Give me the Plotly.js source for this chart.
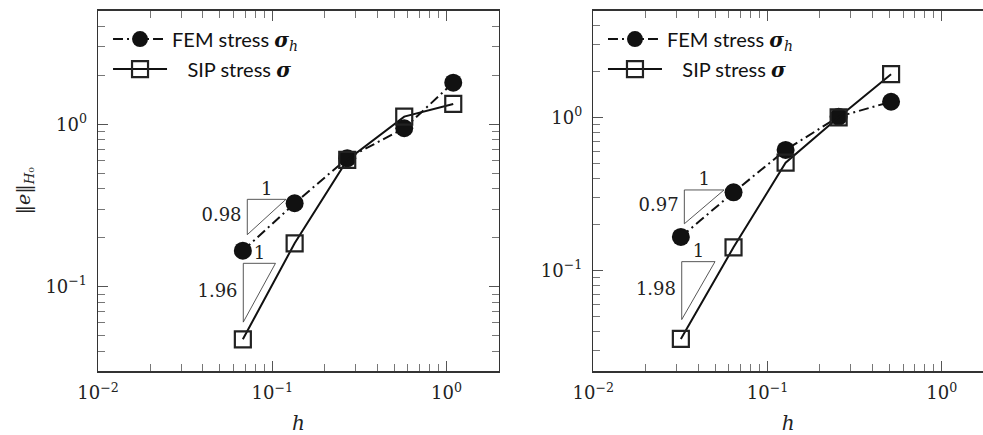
<!DOCTYPE html>
<html>
<head>
<meta charset="utf-8">
<script src="https://cdn.plot.ly/plotly-3.0.1.min.js"></script>
<style>
  html, body { margin: 0; padding: 0; background: #fff; overflow: hidden; }
  #chart { width: 983px; height: 435px; }
</style>
</head>
<body>
<div id="chart"></div>
<script>
// ---- data ----
const hLeft   = [0.0678, 0.1344, 0.2693, 0.572, 1.093];
const femLeft = [0.1666, 0.3263, 0.6174, 0.9449, 1.804];
const sipLeft = [0.04745, 0.1850, 0.6029, 1.114, 1.334];

const hRight   = [0.0318, 0.0638, 0.127, 0.256, 0.512];
const femRight = [0.166, 0.325, 0.615, 1.015, 1.27];
const sipRight = [0.0358, 0.142, 0.508, 1.005, 1.924];

const seriesNames = ['FEM stress <span style="font-family:DejaVu Serif"><b><i>σ</i></b><sub><i>h</i></sub></span>',
                     '\u00a0\u00a0\u00a0SIP stress <span style="font-family:DejaVu Serif"><b><i>σ</i></b></span>'];

const slopeLeft  = [0.98, 1.96];
const slopeRight = [0.97, 1.98];

const xTickVals = [0.01, 0.1, 1];
const xTickText = ['10<sup>−2</sup>', '10<sup>−1</sup>', '10<sup>0</sup>'];
const yTickVals = [0.1, 1];
const yTickText = ['10<sup>−1</sup>', '10<sup>0</sup>'];

// ---- slope-triangle placement (annotation geometry) ----
const triLeft = [
  {x: 0.0719, yTop: 0.345, ratio: 1.667},
  {x: 0.0682, yTop: 0.1393, ratio: 1.53}
];
const triRight = [
  {x: 0.0333, yTop: 0.3368, ratio: 1.69},
  {x: 0.03217, yTop: 0.1145, ratio: 1.553}
];

const serif = 'DejaVu Serif';
const sans = 'Lato';
const ink = '#111';

function seriesTraces(h, fem, sip, xa, ya, legend) {
  return [
    {x: h, y: fem, xaxis: xa, yaxis: ya, type: 'scatter', mode: 'lines+markers',
     name: seriesNames[0], legend: legend, legendgroup: legend + 'a',
     line: {color: ink, width: 2, dash: '10px,4px,2px,4px'},
     marker: {symbol: 'circle', size: 18, color: ink}},
    {x: h, y: sip, xaxis: xa, yaxis: ya, type: 'scatter', mode: 'lines+markers',
     name: seriesNames[1], legend: legend, legendgroup: legend + 'b',
     line: {color: ink, width: 2},
     marker: {symbol: 'square-open', size: 16, color: '#222', line: {width: 2.2, color: '#222'}}}
  ];
}

function triangleTraces(tris, slopes, xa, ya) {
  const out = [];
  tris.forEach((t, i) => {
    const xb = t.x * t.ratio;
    const yBot = t.yTop / Math.pow(t.ratio, slopes[i]);
    out.push({x: [t.x, xb, t.x, t.x], y: [t.yTop, t.yTop, yBot, t.yTop],
      xaxis: xa, yaxis: ya, type: 'scatter', mode: 'lines', showlegend: false,
      hoverinfo: 'skip', line: {color: '#444', width: 0.9}});
    out.push({x: [Math.sqrt(t.x * xb)], y: [t.yTop], xaxis: xa, yaxis: ya,
      type: 'scatter', mode: 'text', text: ['1'], textposition: 'top center',
      showlegend: false, hoverinfo: 'skip',
      textfont: {family: serif, size: 18, color: '#222'}});
    out.push({x: [t.x], y: [Math.sqrt(t.yTop * yBot)], xaxis: xa, yaxis: ya,
      type: 'scatter', mode: 'text', text: [slopes[i].toFixed(2) + '\u00a0'],
      textposition: 'middle left', showlegend: false, hoverinfo: 'skip',
      textfont: {family: serif, size: 18, color: '#222'}});
  });
  return out;
}

const data = [].concat(
  triangleTraces(triLeft, slopeLeft, 'x', 'y'),
  triangleTraces(triRight, slopeRight, 'x2', 'y2'),
  seriesTraces(hLeft, femLeft, sipLeft, 'x', 'y', 'legend'),
  seriesTraces(hRight, femRight, sipRight, 'x2', 'y2', 'legend2')
);

function xAxis(domain, range) {
  return {
    domain: domain, type: 'log', range: range,
    tickmode: 'array', tickvals: xTickVals, ticktext: xTickText,
    ticks: 'inside', ticklen: 10, tickwidth: 1, tickcolor: '#555',
    minor: {ticks: 'inside', ticklen: 7, tickwidth: 1, tickcolor: '#777', dtick: 'D1', showgrid: false},
    showline: true, linecolor: '#333', linewidth: 1.5, mirror: 'ticks',
    showgrid: false, zeroline: false, ticklabelstandoff: 5,
    tickfont: {family: serif, size: 18, color: '#222'},
    title: {text: '<i>h</i>', font: {family: serif, size: 20, color: '#222'}, standoff: 19}
  };
}
function yAxis(anchor, range, title, mirror) {
  return {
    domain: [0.1471, 0.9754], anchor: anchor, type: 'log', range: range,
    tickmode: 'array', tickvals: yTickVals, ticktext: yTickText,
    ticks: 'inside', ticklen: 10, tickwidth: 1, tickcolor: '#555',
    minor: {ticks: 'inside', ticklen: 7, tickwidth: 1, tickcolor: '#777', dtick: 'D1', showgrid: false},
    showline: true, linecolor: '#333', linewidth: 1.5, mirror: mirror,
    showgrid: false, zeroline: false, ticklabelstandoff: 6,
    tickfont: {family: serif, size: 18, color: '#222'},
    title: {text: title, font: {family: serif, size: 19, color: '#222'}, standoff: 10}
  };
}

const layout = {
  width: 983, height: 435,
  margin: {l: 0, r: 0, t: 0, b: 0},
  paper_bgcolor: '#fff', plot_bgcolor: '#fff',
  showlegend: true,
  xaxis: xAxis([0.0997, 0.5076], [-2, 0.30103]),
  yaxis: yAxis('x', [-1.519, 0.699], '‖<i>e</i>‖<sub><i>H</i>₀</sub>', 'ticks'),
  xaxis2: xAxis([0.6036, 1], [-2, 0.237]),
  yaxis2: yAxis('x2', [-1.656, 0.699], '', false),
  legend: {x: 0.1099, y: 0.955, xanchor: 'left', yanchor: 'top', bgcolor: 'rgba(0,0,0,0)',
           font: {family: sans, size: 20, color: ink}, tracegroupgap: 1, itemwidth: 54},
  legend2: {x: 0.6134, y: 0.955, xanchor: 'left', yanchor: 'top', bgcolor: 'rgba(0,0,0,0)',
           font: {family: sans, size: 20, color: ink}, tracegroupgap: 1, itemwidth: 54}
};

Plotly.newPlot('chart', data, layout, {displayModeBar: false, staticPlot: true});
</script>
</body>
</html>
